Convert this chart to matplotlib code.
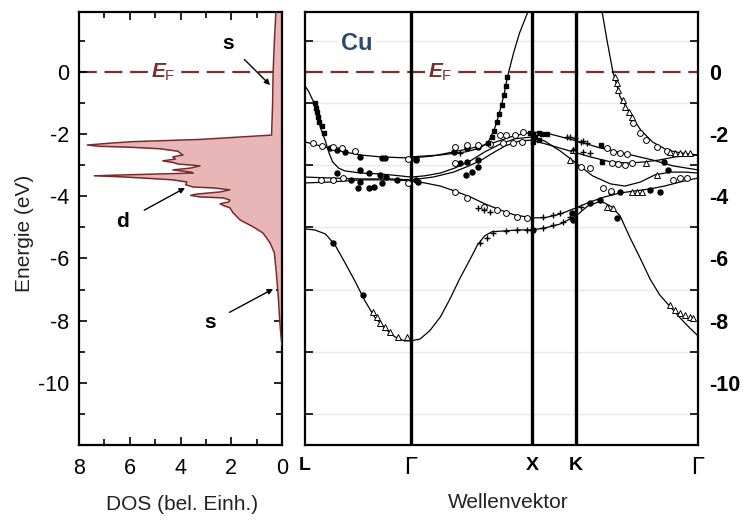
import matplotlib
matplotlib.use('Agg')
import matplotlib.pyplot as plt
import numpy as np

plt.rcParams['font.family'] = ['Liberation Sans', 'DejaVu Sans']
plt.rcParams['axes.unicode_minus'] = False
plt.rcParams['mathtext.fontset'] = 'custom'
plt.rcParams['mathtext.rm'] = 'Liberation Sans'
plt.rcParams['mathtext.it'] = 'Liberation Sans:italic:bold'

# density of states of Cu (arb. units) against energy (eV)
dos_energy = [1.93, 1.0, 0.0, -1.0, -2.03, -2.17, -2.24, -2.29, -2.35, -2.39, -2.42, -2.47,
              -2.55, -2.62, -2.67, -2.73, -2.80, -2.86, -2.91, -2.96, -3.02, -3.09, -3.15,
              -3.22, -3.25, -3.28, -3.31, -3.34, -3.37, -3.42, -3.47, -3.54, -3.63, -3.70,
              -3.73, -3.79, -3.86, -3.93, -3.97, -4.02, -4.05, -4.12, -4.18, -4.24, -4.30,
              -4.37, -4.53, -4.76, -4.98, -5.18, -5.50, -5.82, -6.50, -7.30, -8.00, -8.50, -8.80]
dos_value = [0.24, 0.30, 0.35, 0.37, 0.41, 3.23, 5.86, 6.78, 7.67, 7.20, 6.00, 4.80,
             4.10, 4.00, 3.90, 4.30, 4.20, 4.70, 4.30, 4.10, 3.23, 3.60, 4.30,
             3.60, 3.50, 4.80, 6.20, 7.40, 6.40, 5.30, 4.30, 3.75, 3.80, 3.50,
             2.70, 2.05, 2.44, 3.40, 3.60, 3.23, 2.32, 2.05, 2.10, 2.44, 2.30,
             2.05, 1.93, 1.65, 1.14, 0.75, 0.47, 0.30, 0.22, 0.14, 0.09, 0.04, 0.0]

# high symmetry points along the path L - Gamma - X - K - Gamma
sym_pos = [0.0, 0.885, 1.895, 2.262, 3.28]
sym_names = ['L', r'$\Gamma$', 'X', 'K', r'$\Gamma$']

# calculated bands (k, E)
band1_k = [0.00, 0.08, 0.17, 0.25, 0.33, 0.42, 0.50, 0.58, 0.67, 0.75, 0.83, 0.885, 0.96, 1.04,
           1.13, 1.21, 1.29, 1.38, 1.44, 1.50, 1.56, 1.67, 1.79, 1.895, 2.00, 2.13, 2.262,
           2.36, 2.45, 2.50, 2.56, 2.63, 2.71, 2.80, 2.88, 2.96, 3.05, 3.13, 3.21, 3.28]
band1_e = [-5.05, -5.08, -5.21, -5.56, -6.11, -6.75, -7.36, -7.88, -8.26, -8.52, -8.65, -8.65,
           -8.59, -8.33, -7.88, -7.30, -6.66, -6.01, -5.56, -5.27, -5.14, -5.11, -5.08, -5.08,
           -5.02, -4.89, -4.63, -4.31, -4.18, -4.21, -4.34, -4.63, -5.31, -6.01, -6.66, -7.17,
           -7.56, -7.91, -8.23, -8.49]

band_sx_k = [0.885, 1.13, 1.34, 1.46, 1.53, 1.58, 1.62, 1.66, 1.69, 1.74, 1.79, 1.86]
band_sx_e = [-2.73, -2.67, -2.57, -2.45, -2.25, -1.85, -1.35, -0.75, -0.15, 0.60, 1.25, 1.93]

band_sk_k = [2.48, 2.52, 2.57, 2.63, 2.71, 2.80, 2.90, 3.02, 3.13, 3.28]
band_sk_e = [1.93, 1.03, 0.00, -0.80, -1.32, -1.86, -2.25, -2.51, -2.60, -2.67]

band_top_k = [0.00, 0.13, 0.29, 0.46, 0.63, 0.885, 1.07, 1.24, 1.40, 1.57, 1.74, 1.895,
              2.04, 2.27, 2.46, 2.69, 2.90, 3.07, 3.28]
band_top_e = [-2.25, -2.38, -2.54, -2.67, -2.73, -2.77, -2.70, -2.57, -2.44, -2.28, -2.06, -1.93,
              -1.99, -2.22, -2.44, -2.64, -2.83, -3.02, -3.15]

band_steep_k = [0.00, 0.03, 0.07, 0.10, 0.13, 0.17, 0.20, 0.23, 0.28, 0.33, 0.46, 0.63, 0.79,
                0.885, 1.00, 1.13, 1.25, 1.38, 1.50, 1.63, 1.75, 1.895, 2.00, 2.13, 2.262,
                2.40, 2.55, 2.67, 2.80, 2.92, 3.05, 3.17, 3.28]
band_steep_e = [-0.45, -0.62, -0.95, -1.35, -1.80, -2.22, -2.60, -2.89, -3.09, -3.18, -3.25,
                -3.28, -3.34, -3.38, -3.34, -3.25, -3.09, -2.86, -2.57, -2.32, -2.15, -2.09,
                -2.22, -2.54, -2.93, -3.34, -3.60, -3.67, -3.54, -3.31, -3.22, -3.22, -3.25]

band_mid_k = [0.00, 0.21, 0.46, 0.71, 0.885, 1.07, 1.24, 1.35, 1.46, 1.57, 1.67, 1.79, 1.895,
              2.04, 2.21, 2.38, 2.55, 2.71, 2.84, 2.96, 3.09, 3.28]
band_mid_e = [-3.38, -3.41, -3.44, -3.44, -3.47, -3.38, -3.22, -3.05, -2.86, -2.60, -2.38,
              -2.22, -2.19, -2.35, -2.54, -2.73, -2.89, -2.93, -2.89, -2.83, -2.73, -2.67]

band_low_k = [0.00, 0.21, 0.46, 0.71, 0.885, 1.00, 1.13, 1.25, 1.38, 1.50, 1.63, 1.75, 1.895,
              2.00, 2.13, 2.262, 2.38, 2.50, 2.63, 2.75, 2.88, 3.00, 3.13, 3.28]
band_low_e = [-3.57, -3.54, -3.47, -3.47, -3.50, -3.57, -3.67, -3.83, -4.02, -4.24, -4.44,
              -4.60, -4.69, -4.69, -4.57, -4.37, -4.18, -4.02, -3.89, -3.83, -3.76, -3.67,
              -3.54, -3.41]

# measured points (photoemission)
sq_k = [0.08, 0.09, 0.10, 0.11, 0.12, 0.14, 0.16,
        1.53, 1.56, 1.58, 1.60, 1.62, 1.64, 1.66, 1.675, 1.69,
        1.88, 1.90, 1.92, 1.95, 1.98, 2.02, 1.90, 1.95, 2.47, 2.48]
sq_e = [-1.0, -1.15, -1.3, -1.45, -1.6, -1.75, -1.95,
        -2.3, -2.1, -1.9, -1.6, -1.35, -1.05, -0.75, -0.45, -0.15,
        -1.95, -2.0, -2.1, -1.95, -2.0, -2.0, -2.25, -2.2, -2.35, -2.9]

fc_k = [0.21, 0.27, 0.33, 0.46, 0.64, 0.67, 0.93,
        0.27, 0.46, 0.53, 0.63, 0.68, 0.77, 0.93, 0.44, 0.53, 0.58, 0.64, 0.38, 0.46,
        1.24, 1.35, 1.44, 1.29, 1.35, 1.44, 1.34, 1.39, 1.44, 0.93, 0.94,
        0.23, 0.48, 1.90, 2.24, 2.23, 2.60, 2.46, 2.38,
        3.00, 2.96, 2.88, 2.55, 2.63, 3.03]
fc_e = [-2.44, -2.51, -2.57, -2.73, -2.77, -2.77, -2.80,
        -3.25, -3.15, -3.25, -3.31, -3.38, -3.47, -3.47, -3.73, -3.73, -3.70, -3.57, -3.47, -3.54,
        -2.57, -2.44, -2.41, -2.93, -2.89, -2.83, -3.31, -3.22, -3.05, -2.83, -3.54,
        -5.50, -7.17, -5.08, -4.76, -4.53, -4.69, -4.12, -4.21,
        -2.89, -3.86, -3.79, -3.86, -3.86, -3.15]

oc_k = [0.07, 0.14, 0.23, 0.31, 0.42, 0.13, 0.23, 0.32, 0.86, 0.86,
        1.25, 1.35, 1.44, 1.54, 1.25, 1.63, 1.68, 1.75, 1.82, 1.65, 1.74, 1.81,
        1.25, 1.35, 1.49, 1.60, 1.68, 1.77, 1.85,
        2.52, 2.57, 2.63, 2.69, 2.56, 2.61, 2.67, 2.73, 2.38, 2.30, 2.49, 2.55,
        3.07, 3.13, 3.19, 2.74, 2.80, 2.85, 2.94, 3.02]
oc_e = [-2.28, -2.38, -2.41, -2.44, -2.54, -3.47, -3.47, -3.41, -3.57, -2.80,
        -2.41, -2.35, -2.35, -2.32, -2.93, -2.03, -2.03, -2.03, -1.93, -2.28, -2.28, -2.25,
        -3.86, -4.05, -4.34, -4.44, -4.53, -4.66, -4.69,
        -2.44, -2.57, -2.60, -2.64, -2.93, -2.96, -2.99, -2.93, -3.09, -3.05, -3.73, -3.83,
        -3.47, -3.41, -3.41, -1.64, -1.96, -2.19, -2.41, -2.54]

tri_k = [2.59, 2.60, 2.61, 2.65, 2.67, 2.70, 2.73,
         3.05, 3.09, 3.13, 3.17, 3.21, 2.21, 2.24, 2.77, 2.73, 2.81, 2.85, 2.94,
         0.57, 0.60, 0.63, 0.67, 0.71, 0.78, 0.85,
         3.05, 3.09, 3.13, 3.17, 3.21, 3.24, 2.52, 2.57]
tri_e = [-0.16, -0.35, -0.58, -0.90, -1.13, -1.29, -1.45,
         -2.57, -2.60, -2.60, -2.60, -2.60, -2.83, -2.51, -3.86, -3.86, -3.86, -2.93, -3.31,
         -7.72, -7.88, -8.07, -8.20, -8.36, -8.52, -8.52,
         -7.49, -7.65, -7.75, -7.81, -7.88, -7.91, -4.34, -4.37]

cr_k = [1.46, 1.52, 1.57, 1.68, 1.77, 1.85, 1.99, 2.07, 2.15, 2.21,
        1.44, 1.49, 1.54, 1.99, 2.07, 2.13, 2.30,
        2.19, 2.25, 2.32, 2.21, 2.30, 2.35, 2.24, 2.32, 2.38, 1.29]
cr_e = [-5.50, -5.34, -5.18, -5.11, -5.08, -5.08, -5.02, -4.92, -4.82, -4.66,
        -4.37, -4.44, -4.50, -4.66, -4.60, -4.53, -4.34,
        -2.09, -2.12, -2.22, -2.09, -2.25, -2.28, -2.51, -2.57, -2.60, -2.60]

ef_color = '#7a2e2e'
fig = plt.figure(figsize=(7.45, 5.23), dpi=100)
W, H = 745.0, 523.0
ax1 = fig.add_axes([79 / W, 78 / H, 203 / W, 433 / H])
ax2 = fig.add_axes([305 / W, 78 / H, 393 / W, 433 / H])

# ---- DOS panel
ax1.plot([8, 0], [0, 0], color=ef_color, lw=1.6, dashes=(8, 3.5), zorder=1)
ax1.fill_betweenx(dos_energy, dos_value, 0, color='#e8b6b6', lw=0, zorder=2)
ax1.plot(dos_value, dos_energy, color='#7a2a2a', lw=1.1, zorder=3)
ax1.set_xlim(8, 0)
ax1.set_ylim(-12, 1.93)
ax1.set_xticks([8, 6, 4, 2, 0])
ax1.set_xticks(np.arange(0, 9, 1), minor=True)
ax1.set_yticks(np.arange(-10, 1, 2))
ax1.set_yticks(np.arange(-11, 2, 1), minor=True)
ax1.tick_params(which='both', direction='in', top=True, right=True, width=1.2, labelsize=15.5)
ax1.tick_params(which='major', length=5.5)
ax1.tick_params(which='minor', length=4.5)
ax1.tick_params(axis='y', pad=7)
ax1.tick_params(axis='x', pad=9)
for s in ax1.spines.values():
    s.set_linewidth(1.6)

ax1.text(4.69, 0, r'$E_{\mathrm{F}}$', color=ef_color, fontsize=15, ha='center', va='center',
         bbox=dict(facecolor='white', edgecolor='none', pad=1), zorder=4)
ax1.annotate('s', xy=(0.47, -0.42), xytext=(2.13, 0.93), fontsize=15, fontweight='bold',
             ha='center', va='center',
             arrowprops=dict(arrowstyle='-|>', color='black', lw=1, mutation_scale=8, shrinkA=8, shrinkB=0))
ax1.annotate('d', xy=(3.82, -3.73), xytext=(6.27, -4.82), fontsize=15, fontweight='bold',
             ha='center', va='center',
             arrowprops=dict(arrowstyle='-|>', color='black', lw=1, mutation_scale=8, shrinkA=10, shrinkB=0))
ax1.annotate('s', xy=(0.35, -6.98), xytext=(2.84, -8.07), fontsize=15, fontweight='bold',
             ha='center', va='center',
             arrowprops=dict(arrowstyle='-|>', color='black', lw=1, mutation_scale=8, shrinkA=9, shrinkB=0))

# ---- band structure panel
bands = [(band1_k, band1_e), (band_sx_k, band_sx_e), (band_sk_k, band_sk_e),
         (band_top_k, band_top_e), (band_steep_k, band_steep_e),
         (band_mid_k, band_mid_e), (band_low_k, band_low_e)]
for bk, be in bands:
    ax2.plot(bk, be, color='black', lw=0.9, zorder=3)

ax2.plot([sym_pos[0], sym_pos[-1]], [0, 0], color=ef_color, lw=1.6, dashes=(8, 3.5), zorder=2)
for p in sym_pos[1:4]:
    ax2.axvline(p, color='black', lw=2.4, zorder=4)

ax2.plot(fc_k, fc_e, 'o', color='black', ms=3.6, zorder=5)
ax2.plot(oc_k, oc_e, 'o', mfc='white', mec='black', mew=0.7, ms=4.2, zorder=5)
ax2.plot(sq_k, sq_e, 's', color='black', ms=3.4, zorder=5)
ax2.plot(tri_k, tri_e, '^', mfc='white', mec='black', mew=0.7, ms=4.2, zorder=5)
ax2.plot(cr_k, cr_e, '+', color='black', mew=1.0, ms=4, zorder=5)

ax2.set_xlim(sym_pos[0], sym_pos[-1])
ax2.set_ylim(-12, 1.93)
ax2.set_xticks(sym_pos)
ax2.set_xticklabels(sym_names)
ax2.tick_params(axis='x', length=0, pad=9)
for lab, name in zip(ax2.get_xticklabels(), sym_names):
    if 'Gamma' in name:
        lab.set_fontfamily('Liberation Serif')
        lab.set_fontsize(17)
    else:
        lab.set_fontweight('bold')
        lab.set_fontsize(14)
ax2.yaxis.tick_right()
ax2.set_yticks(np.arange(-10, 1, 2))
ax2.set_yticks(np.arange(-11, 2, 2), minor=True)
ax2.tick_params(axis='y', which='major', length=0, pad=8, labelsize=15.5)
ax2.tick_params(axis='y', which='minor', direction='in', left=True, right=True, length=5.5, width=1.2)
for lab in ax2.get_yticklabels():
    lab.set_fontweight('bold')
ax2.grid(which='minor', axis='y', color='#e9e9e9', lw=1, zorder=0)
ax2.set_axisbelow(True)
for s in ax2.spines.values():
    s.set_linewidth(1.6)

ax2.text(1.13, 0, r'$E_{\mathrm{F}}$', color=ef_color, fontsize=15, ha='center', va='center',
         bbox=dict(facecolor='white', edgecolor='none', pad=1), zorder=4)
ax2.text(0.43, 0.93, 'Cu', color='#2b4a6d', fontsize=17, fontweight='bold', ha='center', va='center',
         bbox=dict(facecolor='white', edgecolor='none', pad=2), zorder=4)

fig.text(182 / W, 1 - 505 / H, 'DOS (bel. Einh.)', ha='center', va='center', fontsize=15, color='#222222')
fig.text(508 / W, 1 - 502 / H, 'Wellenvektor', ha='center', va='center', fontsize=15, color='#222222')
fig.text(24 / W, 1 - 233 / H, 'Energie (eV)', ha='center', va='center', rotation=90, fontsize=15,
         color='#222222')

fig.savefig('out.png', dpi=100)
